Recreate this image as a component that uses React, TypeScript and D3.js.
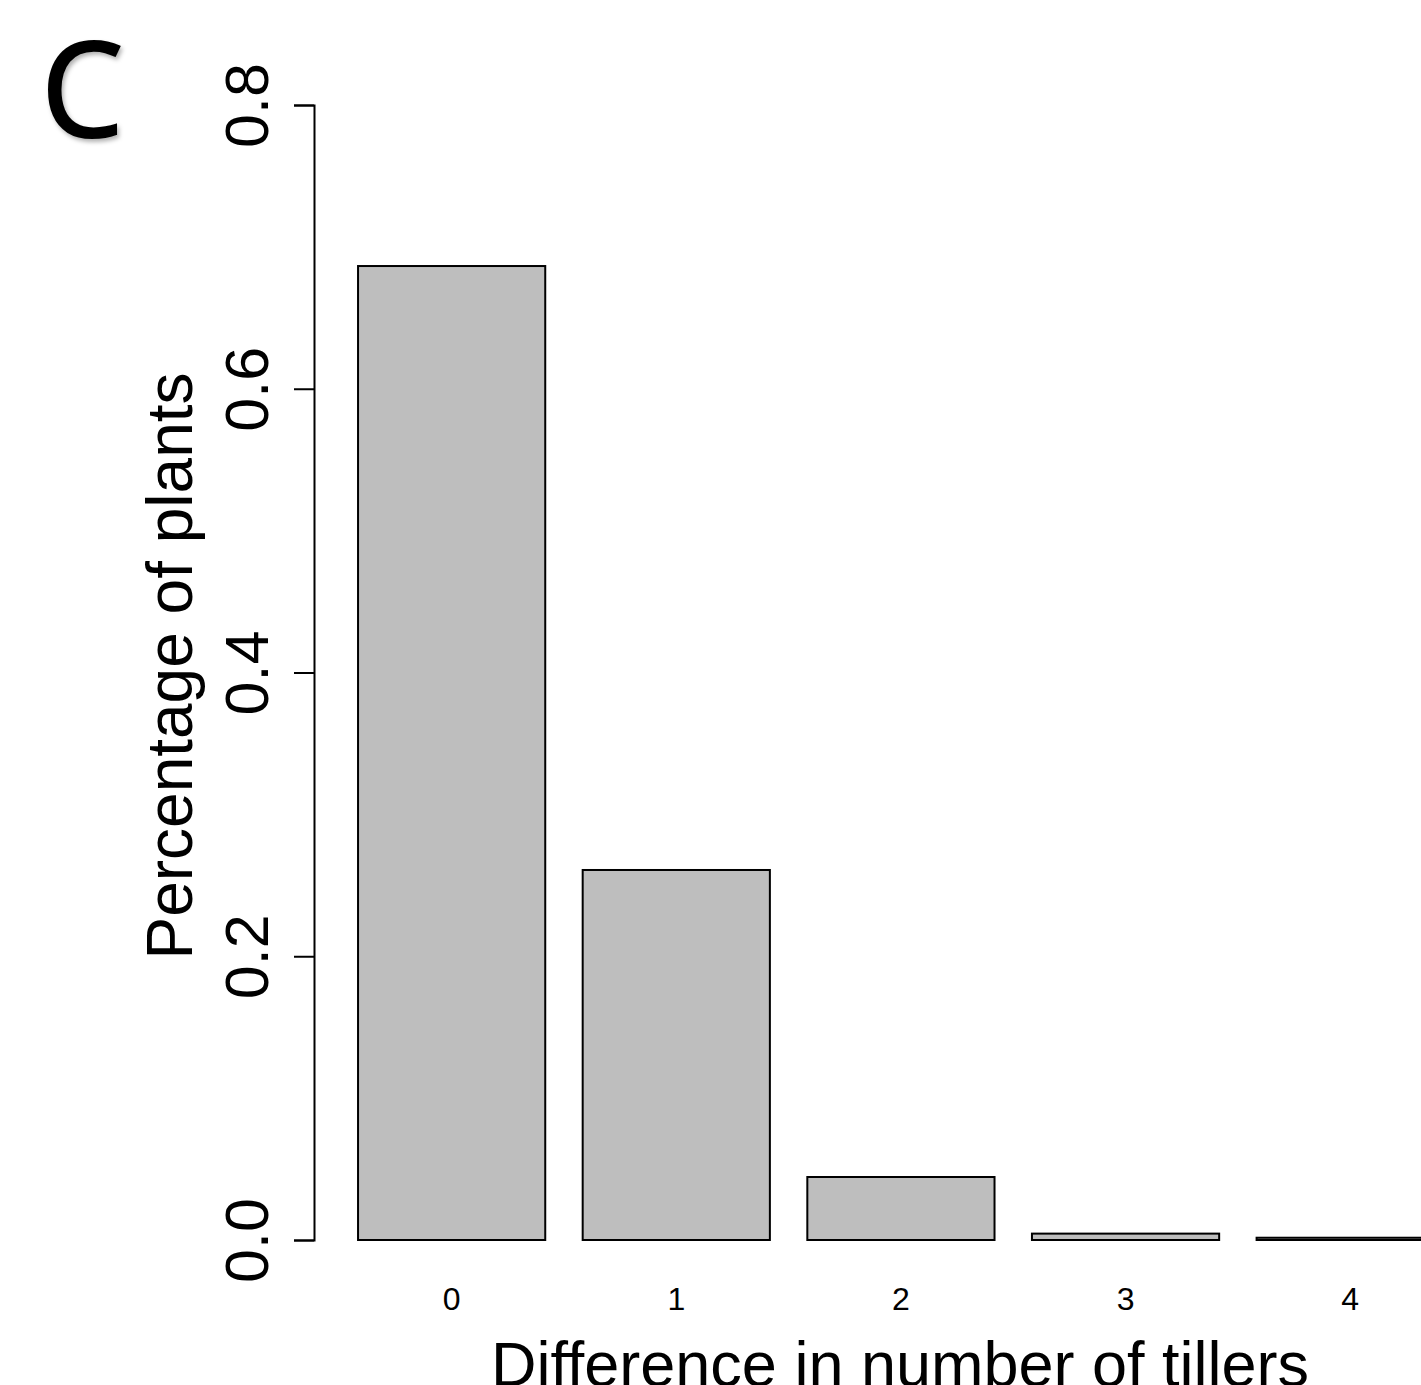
import React, { useEffect, useRef } from 'react'
import * as d3 from 'd3'

// values
const categories = ['0', '1', '2', '3', '4']
const shares = [0.6865, 0.2608, 0.0444, 0.0045, 0.0016]
const yTicks = [0.0, 0.2, 0.4, 0.6, 0.8]

const W = 1421, H = 1385
const FONT = '"Liberation Sans", Arial, sans-serif'

export default function App() {
    const ref = useRef<SVGSVGElement>(null)

    useEffect(() => {
        const svg = d3.select(ref.current)
        svg.selectAll('*').remove()

        // R barplot style: width 1, space 0.2
        const x = d3.scaleLinear().domain([0, 6]).range([320.6, 320.6 + 6 * 187.2])
        const y = d3.scaleLinear().domain([0, 0.8]).range([1240, 105])

        const defs = svg.append('defs')
        const f = defs.append('filter').attr('id', 'shadow')
            .attr('x', '-20%').attr('y', '-20%').attr('width', '150%').attr('height', '150%')
        f.append('feDropShadow').attr('dx', 2).attr('dy', 3).attr('stdDeviation', 2)
            .attr('flood-color', '#000').attr('flood-opacity', 0.3)

        // panel letter
        svg.append('text')
            .attr('x', 41).attr('y', 137)
            .attr('font-family', '"Open Sans", sans-serif')
            .attr('font-size', 131)
            .attr('stroke', '#000').attr('stroke-width', 2)
            .attr('filter', 'url(#shadow)')
            .text('C')

        // bars
        svg.selectAll('.bar')
            .data(shares)
            .enter().append('rect')
            .attr('class', 'bar')
            .attr('x', (d, i) => x(0.2 + i * 1.2))
            .attr('y', d => y(d))
            .attr('width', x(1) - x(0))
            .attr('height', d => y(0) - y(d))
            .attr('fill', '#bebebe')
            .attr('stroke', '#000')
            .attr('stroke-width', 2)

        // category labels
        svg.selectAll('.cat')
            .data(categories)
            .enter().append('text')
            .attr('class', 'cat')
            .attr('x', (d, i) => x(0.7 + i * 1.2))
            .attr('y', 1310)
            .attr('text-anchor', 'middle')
            .attr('font-family', FONT)
            .attr('font-size', 32)
            .text(d => d)

        // y axis
        const g = svg.append('g').attr('transform', 'translate(314,0)')
        g.call(d3.axisLeft(y).tickValues(yTicks).tickSize(20).tickFormat(d3.format('.1f')))
        g.select('.domain').attr('stroke-width', 2)
        g.selectAll('.tick line').attr('stroke-width', 2)
        g.selectAll('.tick text')
            .attr('x', null).attr('dy', null)
            .attr('transform', 'translate(-46,0) rotate(-90)')
            .attr('text-anchor', 'middle')
            .attr('font-family', FONT)
            .attr('font-size', 61)
            .attr('fill', '#000')

        // axis titles
        svg.append('text')
            .attr('transform', 'translate(192,666) rotate(-90)')
            .attr('text-anchor', 'middle')
            .attr('font-family', FONT)
            .attr('font-size', 64)
            .text('Percentage of plants')

        svg.append('text')
            .attr('x', 900).attr('y', 1386)
            .attr('text-anchor', 'middle')
            .attr('font-family', FONT)
            .attr('font-size', 63)
            .text('Difference in number of tillers')
    }, [])

    return (
        <svg ref={ref} width={W} height={H}
             style={{position: 'absolute', left: 0, top: 0, background: '#fff'}}></svg>
    )
}
